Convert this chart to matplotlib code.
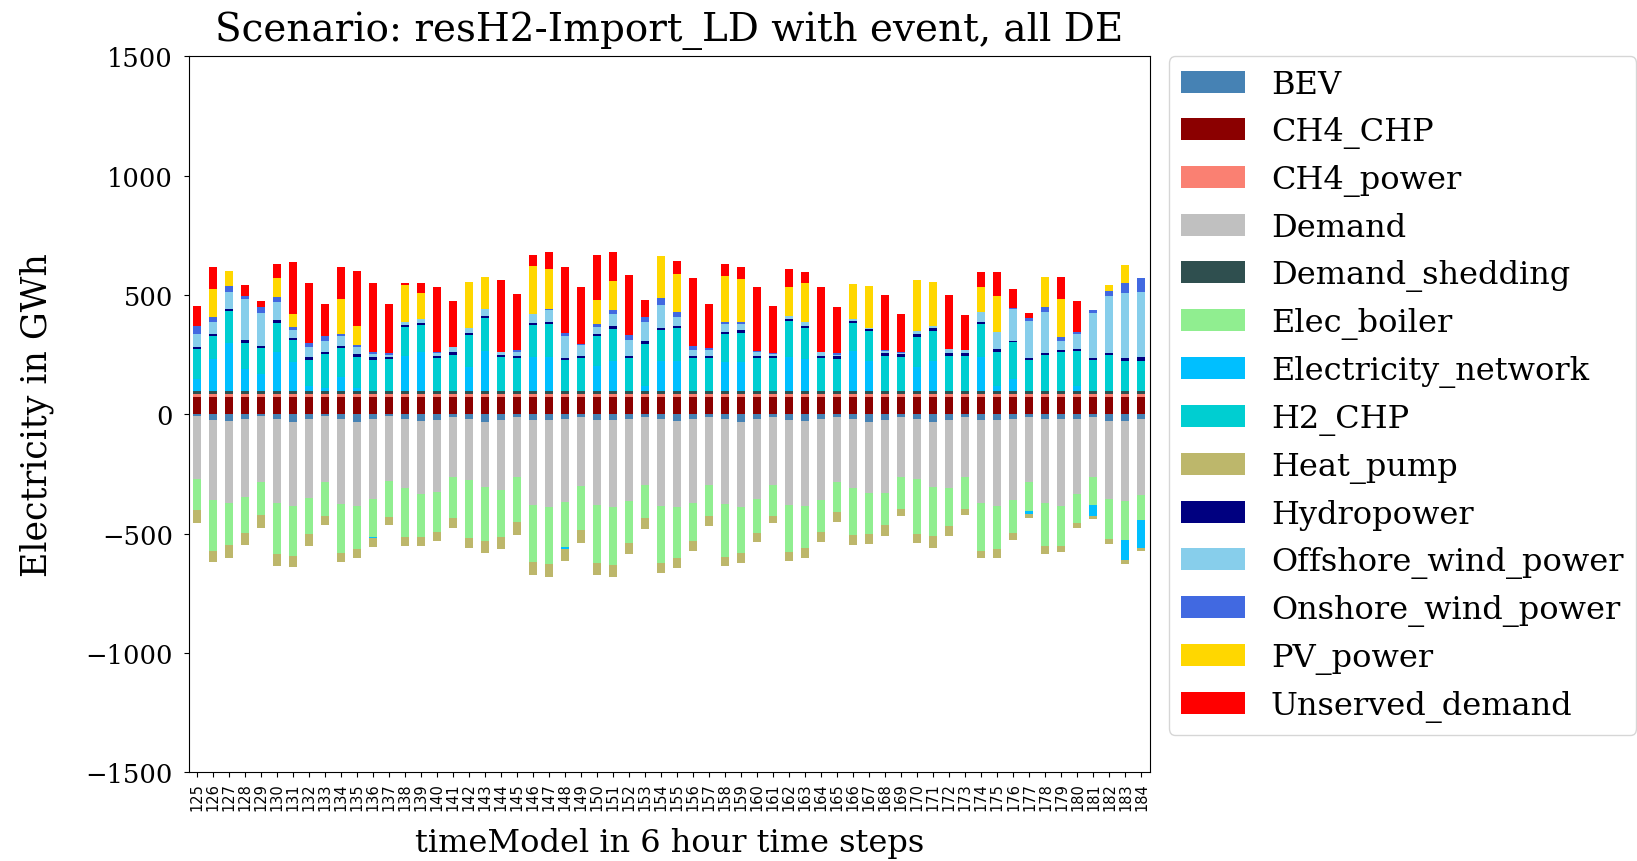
import pandas as pd
import numpy as np
import matplotlib
matplotlib.use("Agg")
import matplotlib.pyplot as plt

plt.rcParams['font.family'] = 'serif'

steps = list(range(125, 185))

bev = [-7, -24, -26, -18, -7, -21, -31, -18, -7, -21,
       -31, -18, -7, -21, -26, -25, -10, -21, -31, -24,
       -10, -24, -24, -21, -10, -24, -24, -21, -10, -21,
       -28, -21, -10, -21, -31, -19, -10, -24, -28, -18,
       -10, -21, -31, -24, -10, -21, -31, -24, -10, -24,
       -24, -21, -10, -21, -21, -21, -10, -26, -26, -17]
ch4_chp = [75, 75, 75, 75, 75, 75, 75, 75, 75, 75,
           75, 75, 75, 75, 75, 75, 75, 75, 75, 75,
           75, 75, 75, 75, 75, 75, 75, 75, 75, 75,
           75, 75, 75, 75, 75, 75, 75, 75, 75, 75,
           75, 75, 75, 75, 75, 75, 75, 75, 75, 75,
           75, 75, 75, 75, 75, 75, 75, 75, 75, 75]
ch4_power = [10, 10, 10, 10, 10, 10, 10, 10, 10, 10,
             10, 10, 10, 10, 10, 10, 10, 10, 10, 10,
             10, 10, 10, 10, 10, 10, 10, 10, 10, 10,
             10, 10, 10, 10, 10, 10, 10, 10, 10, 10,
             10, 10, 10, 10, 10, 10, 10, 10, 10, 10,
             10, 10, 10, 10, 10, 10, 10, 10, 10, 10]
demand = [-264, -333, -344, -328, -274, -350, -351, -330, -276, -354,
          -351, -336, -271, -285, -307, -299, -250, -253, -274, -294,
          -253, -354, -364, -346, -289, -354, -365, -343, -285, -361,
          -361, -350, -285, -354, -358, -335, -285, -354, -354, -342,
          -271, -285, -299, -306, -253, -250, -274, -282, -253, -347,
          -361, -339, -274, -350, -361, -313, -250, -328, -338, -319]
demand_shedding = [15, 15, 15, 15, 15, 15, 15, 15, 15, 15,
                   15, 15, 15, 15, 15, 15, 15, 15, 15, 15,
                   15, 15, 15, 15, 15, 15, 15, 15, 15, 15,
                   15, 15, 15, 15, 15, 15, 15, 15, 15, 15,
                   15, 15, 15, 15, 15, 15, 15, 15, 15, 15,
                   15, 15, 15, 15, 15, 15, 15, 15, 15, 15]
elec_boiler = [-128, -215, -178, -150, -142, -212, -211, -153, -143, -207,
               -181, -158, -151, -207, -179, -169, -173, -243, -224, -197,
               -189, -240, -240, -187, -186, -243, -243, -173, -139, -242,
               -211, -160, -132, -221, -193, -143, -129, -197, -176, -132,
               -128, -200, -171, -132, -133, -229, -206, -160, -133, -201,
               -178, -136, -119, -181, -170, -120, -118, -169, -163, -107]
elec_network = [49, 132, 201, 90, 69, 160, 118, 21, 10, 56,
                10, -6, 0, 146, 160, 0, 0, 100, 167, 0,
                0, 142, 142, -8, 0, 104, 125, 0, 20, 125,
                125, 0, 0, 118, 118, 0, 0, 139, 132, 0,
                0, 167, 125, 0, 0, 97, 125, 0, 0, 139,
                21, 49, -14, 0, 0, 21, -46, 0, -81, -115]
h2_chp = [125, 97, 132, 111, 110, 125, 92, 108, 143, 122,
          132, 129, 132, 121, 117, 136, 150, 133, 136, 139,
          136, 133, 136, 128, 135, 125, 135, 135, 175, 129,
          136, 136, 136, 118, 125, 136, 136, 151, 129, 135,
          133, 115, 124, 146, 142, 129, 125, 146, 146, 139,
          142, 153, 128, 149, 160, 147, 128, 149, 125, 125]
heat_pump = [-56, -46, -52, -50, -54, -51, -46, -51, -39, -36,
             -40, -36, -36, -36, -39, -39, -42, -42, -51, -50,
             -51, -53, -53, -54, -53, -51, -51, -46, -46, -42,
             -44, -42, -39, -39, -39, -38, -30, -38, -42, -43,
             -42, -42, -42, -46, -31, -38, -49, -44, -26, -28,
             -38, -28, -17, -31, -25, -21, -14, -21, -17, -14]
hydro = [10, 10, 10, 10, 10, 10, 10, 12, 10, 10,
         11, 12, 10, 10, 8, 10, 10, 10, 10, 12,
         10, 10, 10, 8, 11, 10, 11, 11, 11, 10,
         10, 10, 10, 10, 10, 10, 10, 11, 10, 11,
         10, 10, 8, 10, 10, 10, 11, 12, 10, 10,
         11, 7, 8, 8, 10, 8, 8, 8, 10, 14]
offshore = [53, 49, 72, 172, 136, 78, 32, 43, 43, 39,
            28, 11, 8, 11, 14, 11, 21, 21, 28, 12,
            17, 35, 49, 93, 44, 28, 51, 65, 82, 94,
            38, 25, 24, 35, 28, 14, 6, 11, 17, 17,
            7, 10, 7, 8, 5, 14, 10, 17, 14, 42,
            72, 132, 156, 172, 36, 60, 190, 239, 272, 275]
onshore = [35, 21, 25, 14, 25, 19, 15, 17, 21, 12,
           10, 10, 7, 0, 0, 6, 0, 0, 0, 0,
           7, 0, 7, 11, 7, 14, 14, 21, 21, 31,
           21, 17, 8, 7, 7, 7, 5, 0, 0, 0,
           7, 0, 0, 5, 5, 0, 0, 0, 0, 0,
           0, 7, 14, 22, 19, 10, 10, 21, 42, 58]
pv = [0, 118, 60, 0, 0, 79, 56, 0, 0, 146,
      81, 0, 0, 153, 108, 0, 0, 192, 136, 0,
      0, 201, 167, 0, 0, 97, 125, 0, 0, 174,
      160, 0, 0, 194, 181, 0, 0, 121, 161, 0,
      0, 143, 176, 0, 0, 215, 183, 0, 0, 106,
      150, 0, 0, 125, 160, 0, 0, 24, 79, 0]
unserved = [81, 90, 0, 46, 24, 61, 215, 250, 138, 132,
            229, 289, 207, 8, 44, 272, 194, 0, 0, 300,
            233, 49, 69, 276, 238, 192, 118, 251, 71, 0,
            53, 285, 186, 50, 50, 268, 197, 76, 49, 272,
            194, 0, 0, 232, 160, 0, 0, 226, 146, 61,
            100, 76, 21, 0, 92, 129, 0, 0, 0, 0]

df = pd.DataFrame({
    "BEV": bev,
    "CH4_CHP": ch4_chp,
    "CH4_power": ch4_power,
    "Demand": demand,
    "Demand_shedding": demand_shedding,
    "Elec_boiler": elec_boiler,
    "Electricity_network": elec_network,
    "H2_CHP": h2_chp,
    "Heat_pump": heat_pump,
    "Hydropower": hydro,
    "Offshore_wind_power": offshore,
    "Onshore_wind_power": onshore,
    "PV_power": pv,
    "Unserved_demand": unserved,
}, index=steps)

colors = ["steelblue", "darkred", "salmon", "silver", "darkslategray",
          "lightgreen", "deepskyblue", "darkturquoise", "darkkhaki", "navy",
          "skyblue", "royalblue", "gold", "red"]

fig = plt.figure(figsize=(16.37, 8.62), dpi=100)
ax = fig.add_axes([0.1155, 0.1027, 0.5867, 0.8306])
df.plot(kind="bar", stacked=True, color=colors, ax=ax, legend=False)

ax.set_ylim(-1500, 1500)
ax.set_yticks([-1500, -1000, -500, 0, 500, 1000, 1500])
ax.tick_params(axis="y", labelsize=18.5, pad=8)
ax.set_xticklabels([str(s) for s in steps], rotation=90, fontsize=10.5,
                   family="DejaVu Sans")

ax.set_title("Scenario: resH2-Import_LD with event, all DE", fontsize=28,
             pad=12)
ax.set_xlabel("timeModel in 6 hour time steps", fontsize=23, labelpad=12)
ax.set_ylabel("Electricity in GWh", fontsize=25, labelpad=23)

ax.legend(loc="upper left", bbox_to_anchor=(1.02, 1.0), borderaxespad=0,
          fontsize=23)

fig.savefig("out.png", dpi=100)
